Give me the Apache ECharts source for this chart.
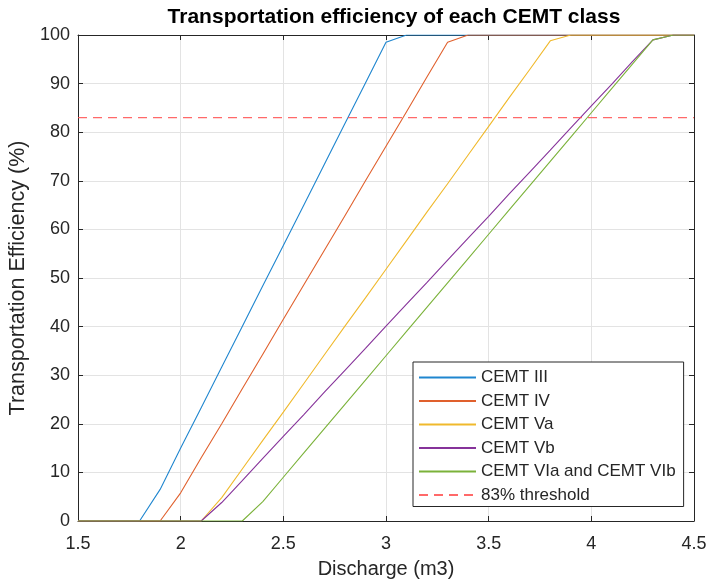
<!DOCTYPE html>
<html>
<head>
<meta charset="utf-8">
<title>Transportation efficiency of each CEMT class</title>
<script src="https://cdn.jsdelivr.net/npm/echarts@6/dist/echarts.min.js"></script>
<style>
  html, body { margin: 0; padding: 0; background: #ffffff; }
  #chart { width: 711px; height: 581px; }
</style>
</head>
<body>
<div id="chart"></div>
<script>
// Discharge values (m3) shared by every class curve
const discharge = [1.5, 1.6, 1.7, 1.8, 1.9, 2.0, 2.1, 2.2, 2.3, 2.4, 2.5, 2.6, 2.7, 2.8, 2.9, 3.0,
                   3.1, 3.2, 3.3, 3.4, 3.5, 3.6, 3.7, 3.8, 3.9, 4.0, 4.1, 4.2, 4.3, 4.4, 4.5];

// Transportation efficiency (%) per CEMT class
const cemtIII = [0, 0, 0, 0, 6.5, 15, 23.3, 31.7, 40, 48.4, 56.7, 65, 73.4, 81.8, 90.1, 98.5,
                 100, 100, 100, 100, 100, 100, 100, 100, 100, 100, 100, 100, 100, 100, 100];
const cemtIV = [0, 0, 0, 0, 0, 5.8, 13, 20, 27.2, 34.3, 41.5, 48.6, 55.7, 62.8, 70, 77.1,
                84.2, 91.4, 98.5, 100, 100, 100, 100, 100, 100, 100, 100, 100, 100, 100, 100];
const cemtVa = [0, 0, 0, 0, 0, 0, 0, 4.8, 10.7, 16.6, 22.4, 28.3, 34.2, 40.1, 45.9, 51.8,
                57.7, 63.6, 69.4, 75.3, 81.2, 87.1, 92.9, 98.8, 100, 100, 100, 100, 100, 100, 100];
const cemtVb = [0, 0, 0, 0, 0, 0, 0, 3.8, 8.3, 12.9, 17.4, 21.9, 26.5, 31.0, 35.5, 40.1,
                44.6, 49.1, 53.7, 58.2, 62.7, 67.3, 71.8, 76.3, 80.9, 85.4, 89.9, 94.5, 99.0, 100, 100];
const cemtVI = [0, 0, 0, 0, 0, 0, 0, 0, 0, 4, 9, 14, 19, 24, 29, 34,
                39, 44, 49, 54, 59, 64, 69, 74, 79, 84, 89, 94, 99, 100, 100];

const threshold = 83;

const seriesNames = ['CEMT III', 'CEMT IV', 'CEMT Va', 'CEMT Vb', 'CEMT VIa and CEMT VIb', '83% threshold'];
const seriesValues = [cemtIII, cemtIV, cemtVa, cemtVb, cemtVI];
const seriesColors = ['#1f86cf', '#e0602d', '#f0b92c', '#86339a', '#7bb23a'];
const thresholdColor = '#ff4f4f';

const xTicks = { min: 1.5, max: 4.5, interval: 0.5 };
const yTicks = { min: 0, max: 100, interval: 10 };

const axisColor = '#262626';
const gridColor = '#e3e3e3';
const fontFamily = '"Liberation Sans", Arial, Helvetica, sans-serif';

const pairs = (ys) => discharge.map((x, i) => [x, ys[i]]);

const curveSeries = seriesValues.map((ys, i) => ({
  name: seriesNames[i],
  type: 'line',
  data: pairs(ys),
  symbol: 'none',
  showSymbol: false,
  animation: false,
  lineStyle: { color: seriesColors[i], width: 1.1 },
  itemStyle: { color: seriesColors[i] },
  z: 3 + i
}));

const thresholdSeries = {
  name: seriesNames[5],
  type: 'line',
  data: [[discharge[0], threshold], [discharge[discharge.length - 1], threshold]],
  symbol: 'none',
  showSymbol: false,
  animation: false,
  lineStyle: { color: thresholdColor, width: 1.1, opacity: 0.85, type: [9, 6] },
  itemStyle: { color: thresholdColor },
  z: 9
};

function valueAxis(ticks, extra) {
  return Object.assign({
    type: 'value',
    min: ticks.min,
    max: ticks.max,
    interval: ticks.interval,
    axisLine: { show: true, onZero: false, lineStyle: { color: axisColor, width: 1 } },
    axisTick: { show: true, inside: true, length: 5, lineStyle: { color: axisColor } },
    axisLabel: { show: false },
    splitLine: { show: false }
  }, extra);
}

const option = {
  backgroundColor: '#ffffff',
  animation: false,
  title: {
    text: 'Transportation efficiency of each CEMT class',
    left: 389,
    textAlign: 'center',
    top: 2,
    textStyle: { fontFamily, fontSize: 21, fontWeight: 'bold', color: '#000000' }
  },
  grid: { left: 78, right: 17, top: 35, bottom: 60, containLabel: false, outerBoundsMode: 'none' },
  legend: {
    orient: 'vertical',
    left: 413,
    top: 362,
    data: seriesNames,
    itemWidth: 57,
    itemHeight: 14,
    itemGap: 6.5,
    padding: [7, 8, 3, 5],
    backgroundColor: '#ffffff',
    borderColor: axisColor,
    borderWidth: 1,
    borderRadius: 0,
    itemStyle: { opacity: 0 },
    textStyle: { fontFamily, fontSize: 17, color: axisColor }
  },
  xAxis: [
    valueAxis(xTicks, {
      position: 'bottom',
      name: 'Discharge (m3)',
      nameLocation: 'middle',
      nameGap: 38,
      nameTextStyle: { fontFamily, fontSize: 20, color: axisColor },
      axisLabel: { show: true, fontFamily, fontSize: 18, color: axisColor, margin: 14 },
      splitLine: { show: true, lineStyle: { color: gridColor, width: 1 } }
    }),
    valueAxis(xTicks, { position: 'top' })
  ],
  yAxis: [
    valueAxis(yTicks, {
      position: 'left',
      name: 'Transportation Efficiency (%)',
      nameLocation: 'middle',
      nameGap: 47,
      nameTextStyle: { fontFamily, fontSize: 21.5, color: axisColor },
      axisLabel: { show: true, fontFamily, fontSize: 18, color: axisColor, margin: 8 },
      splitLine: { show: true, lineStyle: { color: gridColor, width: 1 } }
    }),
    valueAxis(yTicks, { position: 'right' })
  ],
  series: curveSeries.concat([thresholdSeries])
};

const chart = echarts.init(document.getElementById('chart'), null, { renderer: 'canvas' });
chart.setOption(option);
</script>
</body>
</html>
